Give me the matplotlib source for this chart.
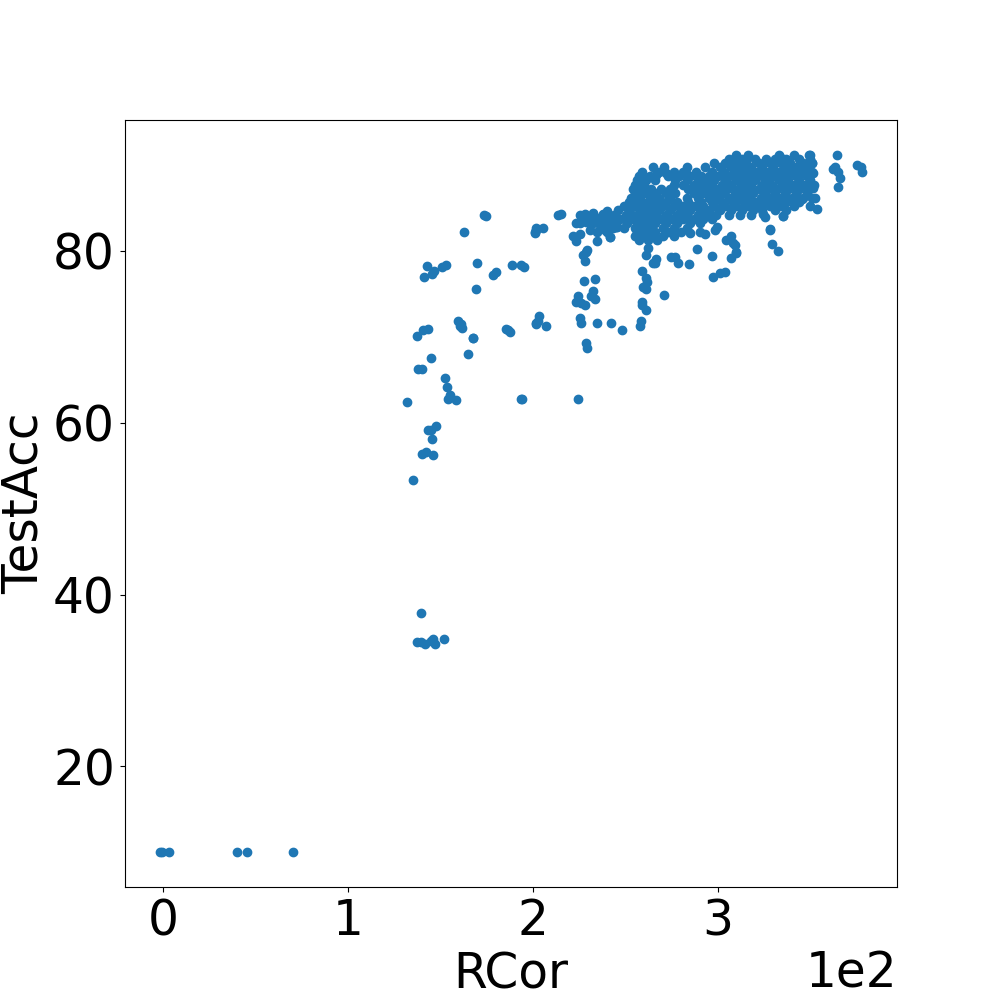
import numpy as np
import matplotlib
matplotlib.use("Agg")
import matplotlib.pyplot as plt

# low RCor runs (collapsed accuracy)
low_rcor = [-2, -1, 3, 40, 45, 70]
low_acc = [10, 10, 10, 10, 10, 10]

# cluster around 34%
mid_rcor = [139.5, 137.3, 139.5, 141.3, 144.9, 145.8, 146.7, 151.6]
mid_acc = [37.8, 34.5, 34.5, 34.3, 34.6, 34.8, 34.3, 34.8]

# scattered runs between 130 and 270
sparse_rcor = [164.7, 167.5, 144.6, 137.7, 140.0, 152.3, 153.2, 155.2, 153.8, 158.1,
               131.6, 194.0, 147.6, 143.3, 144.7, 145.4, 139.8, 142.2, 146.0, 135.0,
               173.4, 174.7, 162.8, 201.4, 201.0, 169.8, 142.5, 152.8, 150.9, 146.5,
               145.1, 141.1, 180.1, 178.3, 188.8, 193.6, 194.9, 168.9, 137.4, 140.2,
               143.3, 159.3, 160.3, 161.2, 161.7, 167.5, 185.2, 187.7, 186.4, 202.6,
               201.7, 213.5, 215.3, 201.7, 205.4, 200.9, 203.2, 201.7, 207.2, 193.6,
               224.3, 227.4, 233.3, 225.2, 226.1, 234.3, 241.9, 248.3, 228.8, 229.1,
               224.3, 223.4, 226.1, 227.9, 231.5, 232.4, 233.3, 227.0, 228.8, 227.9,
               229.1, 221.6, 223.4, 225.2, 234.3, 241.5, 245.4, 238.8, 225.2, 228.0,
               232.4, 237.9, 225.2, 228.8, 232.4, 235.1, 239.7, 230.6, 234.3, 223.4,
               229.7, 233.3, 250.5, 252.3, 257.4, 258.7, 261.3, 259.5, 261.3, 258.7,
               261.3, 258.3, 257.7, 261.3, 262.2, 264.9, 266.7, 261.8, 258.7]
sparse_acc = [68.0, 69.8, 67.5, 66.3, 66.2, 65.2, 64.2, 63.2, 62.8, 62.6,
              62.4, 62.7, 59.6, 59.2, 59.1, 58.1, 56.3, 56.6, 56.2, 53.3,
              84.2, 84.1, 82.2, 82.4, 82.1, 78.6, 78.2, 78.3, 78.1, 77.6,
              77.3, 76.9, 77.5, 77.2, 78.3, 78.4, 78.1, 75.6, 70.1, 70.8,
              70.9, 71.8, 71.2, 71.5, 71.0, 69.9, 70.9, 70.6, 70.8, 71.8,
              71.5, 84.2, 84.3, 82.6, 82.6, 82.2, 72.4, 71.6, 71.2, 62.7,
              62.7, 76.5, 76.7, 72.2, 71.6, 71.6, 71.6, 70.8, 69.3, 68.7,
              74.7, 74.1, 73.9, 73.7, 74.7, 75.3, 74.4, 79.5, 79.9, 78.8,
              80.1, 81.7, 81.1, 81.9, 81.1, 81.6, 82.8, 82.4, 84.2, 84.3,
              84.4, 84.3, 83.2, 83.4, 83.2, 83.8, 83.2, 82.4, 82.2, 83.2,
              84.0, 83.6, 83.8, 84.4, 85.8, 77.6, 76.8, 75.8, 75.5, 73.7,
              73.1, 71.8, 71.3, 79.5, 80.3, 78.6, 79.0, 76.4, 74.1]

# outliers below / beside the main cloud
edge_rcor = [270.7, 274.4, 278.5, 284.4, 288.4, 296.5, 297.1, 301.0, 303.7, 307.3,
             310.0, 308.2, 307.3, 304.6, 298.3, 299.2, 292.9, 328.1, 329.3, 332.2,
             334.9, 324.5, 325.4, 353.3, 343.4, 345.2, 351.2, 365.1, 366.0, 364.2,
             363.3, 362.4, 365.1, 375.0, 377.6, 378.0, 349.6, 350.6, 351.5, 333.5,
             315.5, 309.1, 266.7, 272.1, 282.9, 257.7, 251.4, 245.0, 241.5, 237.9,
             265.8, 276.6, 284.8, 309.1, 310.0, 335.3, 328.1, 334.4, 336.2, 352.4,
             342.5, 338.9, 319.1, 324.5, 329.9, 263.0, 236.0, 240.0]
edge_acc = [74.9, 79.3, 78.6, 78.5, 80.2, 79.4, 76.9, 77.4, 77.5, 79.2,
            79.8, 80.9, 81.7, 81.3, 82.4, 82.8, 81.9, 82.5, 80.8, 80.0,
            84.0, 84.3, 83.9, 84.9, 85.9, 86.0, 87.3, 87.4, 88.5, 91.2,
            89.8, 89.5, 89.2, 90.0, 89.8, 89.2, 91.2, 90.2, 89.0, 90.9,
            90.8, 90.8, 88.8, 89.0, 89.1, 85.9, 84.0, 82.8, 81.6, 84.2,
            78.6, 79.3, 82.1, 80.7, 79.9, 84.0, 82.4, 85.3, 86.3, 86.1,
            89.6, 89.4, 85.5, 85.5, 85.7, 85.3, 83.0, 84.6]

# dense cloud, read row by row (TestAcc level -> RCor values)
dense_acc_levels = [91.2, 90.7, 90.2, 89.7, 89.2, 88.7, 88.2, 87.7, 87.2, 86.7,
                    86.2, 85.7, 85.2, 84.7, 84.2, 83.7, 83.2, 82.7, 82.2, 81.7, 81.2]
dense_rcor_rows = [
    [310, 316, 333, 341, 349],
    [306, 313, 320, 326, 331, 337, 344, 350],
    [298, 304, 309, 315, 322, 328, 334, 339, 346, 351],
    [265, 271, 283, 293, 301, 307, 312, 318, 324, 330, 336, 342, 348],
    [259, 268, 276, 281, 288, 297, 303, 309, 315, 321, 327, 333, 339, 345, 351],
    [257, 263, 273, 279, 285, 291, 295, 300, 306, 312, 318, 324, 330, 336, 342, 348],
    [256, 261, 266, 277, 283, 289, 294, 298, 304, 310, 315, 320, 327, 333, 338, 344, 350],
    [255, 260, 276, 281, 287, 292, 297, 302, 307, 313, 318, 324, 329, 335, 341, 347, 352],
    [254, 258, 264, 269, 274, 284, 289, 295, 300, 305, 311, 316, 322, 327, 332, 338, 344, 349],
    [255, 261, 266, 272, 277, 287, 292, 298, 303, 309, 314, 319, 325, 331, 336, 342, 348],
    [253, 258, 263, 268, 274, 283, 289, 295, 300, 306, 311, 317, 323, 328, 334, 340, 346, 351],
    [252, 257, 262, 267, 272, 278, 284, 291, 297, 302, 308, 314, 320, 325, 331, 337, 344],
    [249, 255, 260, 265, 270, 276, 281, 287, 292, 298, 304, 310, 316, 322, 328, 334, 341, 350],
    [246, 252, 258, 263, 268, 274, 280, 285, 290, 295, 301, 307, 313, 319, 324, 331, 337],
    [244, 250, 256, 261, 266, 272, 278, 283, 289, 294, 299, 306, 312, 318],
    [241, 247, 253, 258, 264, 269, 275, 281, 287, 292, 297],
    [239, 245, 251, 256, 261, 266, 272, 278, 285, 290],
    [237, 243, 249, 255, 259, 264, 270, 276, 283],
    [240, 256, 261, 266, 273, 280, 290],
    [255, 259, 264, 270, 276],
    [257, 262, 267],
]

dense_rcor = []
dense_acc = []
for level, row in zip(dense_acc_levels, dense_rcor_rows):
    dense_rcor += row
    dense_acc += [level] * len(row)

rcor = np.array(low_rcor + mid_rcor + sparse_rcor + edge_rcor + dense_rcor, dtype=float)
acc = np.array(low_acc + mid_acc + sparse_acc + edge_acc + dense_acc, dtype=float)

fig, ax = plt.subplots(figsize=(9.97, 9.97), dpi=100)
ax.scatter(rcor, acc)
ax.ticklabel_format(style='sci', axis='x', scilimits=(0, 0))
ax.set_xlabel('RCor', fontsize=35)
ax.set_ylabel('TestAcc', fontsize=35)
ax.tick_params(labelsize=35)
ax.xaxis.get_offset_text().set_fontsize(35)

plt.savefig('out.png')
